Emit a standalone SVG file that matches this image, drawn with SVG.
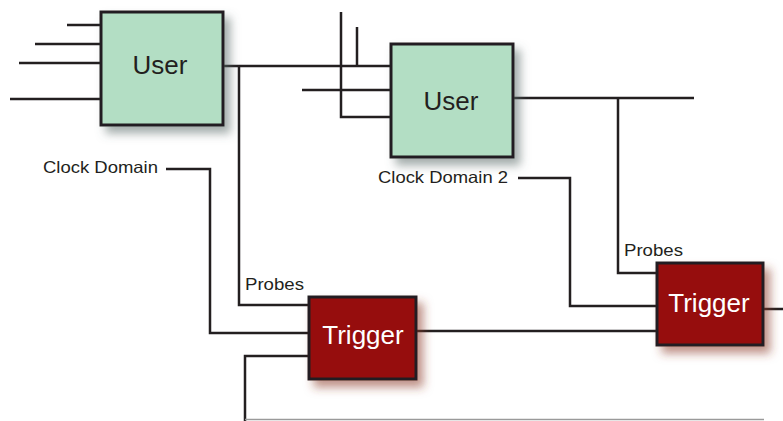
<svg xmlns="http://www.w3.org/2000/svg" width="783" height="421" viewBox="0 0 783 421">
  <style>
    .wire { fill: none; stroke: #231f20; stroke-width: 2.5; stroke-linejoin: miter; }
    .user { fill: #b3dec4; stroke: #231f20; stroke-width: 3; }
    .trig { fill: #960a0c; stroke: #231f20; stroke-width: 3; }
    .ulabel { font-family: "Liberation Sans", Arial, sans-serif; font-size: 26px; fill: #231f20; text-anchor: middle; }
    .tlabel { font-family: "Liberation Sans", Arial, sans-serif; font-size: 26px; fill: #ffffff; text-anchor: middle; }
    .note { font-family: "Liberation Sans", Arial, sans-serif; font-size: 16.5px; fill: #231f20; }
  </style>
  <defs>
    <filter id="shadowGray" x="-20%" y="-20%" width="150%" height="150%">
      <feDropShadow dx="6" dy="7" stdDeviation="5" flood-color="#5a6a66" flood-opacity="0.55"/>
    </filter>
    <filter id="shadowRed" x="-20%" y="-20%" width="150%" height="150%">
      <feDropShadow dx="6" dy="7" stdDeviation="5" flood-color="#8a3a2a" flood-opacity="0.55"/>
    </filter>
  </defs>

  <rect width="783" height="421" fill="#ffffff"/>

  <!-- connectors -->
  <g id="connectors">
    <!-- inputs of the first User block -->
    <path class="wire" d="M67,25 H101 M35,44 H101 M19,63 H101 M10,99 H101"/>
    <!-- User 1 output feeding User 2 -->
    <path class="wire" d="M223,66 H391"/>
    <!-- probes from User 1 to Trigger 1 -->
    <path class="wire" d="M239,66 V305 H309"/>
    <!-- other inputs of User 2 -->
    <path class="wire" d="M341,12 V117 H391"/>
    <path class="wire" d="M357,27 V66"/>
    <path class="wire" d="M302,90 H391"/>
    <!-- User 2 output and probes to Trigger 2 -->
    <path class="wire" d="M513,98 H694"/>
    <path class="wire" d="M618,98 V273 H657"/>
    <!-- clock domains -->
    <path class="wire" d="M166,169 H210 V333 H309"/>
    <path class="wire" d="M518,178 H570 V306 H657"/>
    <!-- trigger chain -->
    <path class="wire" d="M416,331 H657"/>
    <path class="wire" d="M763,309 H783"/>
    <!-- return loop -->
    <path class="wire" d="M309,356 H245 V421"/>
    <path d="M245,419.5 H764" fill="none" stroke="#9a9a9a" stroke-width="1.5"/>
  </g>

  <g id="user1">
    <rect class="user" x="101" y="12" width="122" height="113" filter="url(#shadowGray)"/>
    <text class="ulabel" x="160" y="74">User</text>
  </g>

  <g id="user2">
    <rect class="user" x="391" y="44" width="122" height="113" filter="url(#shadowGray)"/>
    <text class="ulabel" x="451" y="110">User</text>
  </g>

  <g id="trigger1">
    <rect class="trig" x="309" y="297" width="107" height="82" filter="url(#shadowRed)"/>
    <text class="tlabel" x="363" y="344">Trigger</text>
  </g>

  <g id="trigger2">
    <rect class="trig" x="657" y="263" width="106" height="82" filter="url(#shadowRed)"/>
    <text class="tlabel" x="709" y="312">Trigger</text>
  </g>

  <g id="labels">
    <text class="note" x="43" y="173" textLength="115" lengthAdjust="spacingAndGlyphs">Clock Domain</text>
    <text class="note" x="378" y="183" textLength="130" lengthAdjust="spacingAndGlyphs">Clock Domain 2</text>
    <text class="note" x="245" y="290" textLength="59" lengthAdjust="spacingAndGlyphs">Probes</text>
    <text class="note" x="624" y="256" textLength="59" lengthAdjust="spacingAndGlyphs">Probes</text>
  </g>
</svg>
